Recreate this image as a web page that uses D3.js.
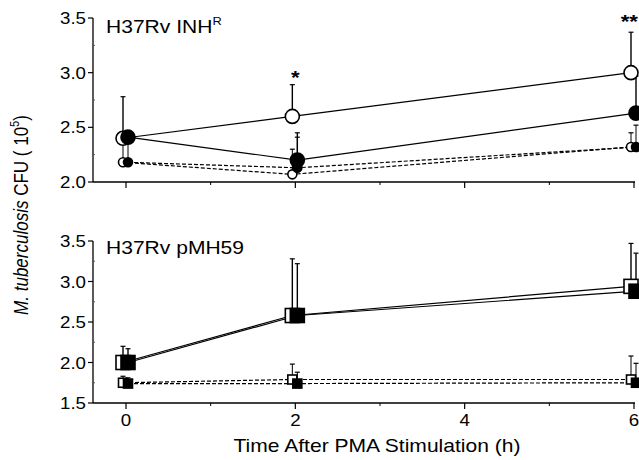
<!DOCTYPE html>
<html>
<head>
<meta charset="utf-8">
<script src="https://cdn.jsdelivr.net/npm/d3@7/dist/d3.min.js"></script>
<style>
  body { margin: 0; background: #fff; }
  svg { font-family: "Liberation Sans", Arial, sans-serif; }
</style>
</head>
<body>
<div id="chart"></div>
<script>
// time points (h)
const timesH = [0, 2, 6];
const xTicks = [0, 2, 4, 6];
const xMinorTicks = [1, 3, 5];

// top panel: H37Rv INH^R
const inhOpenBig = [2.40, 2.60, 3.00];
const inhOpenBigErr = [2.78, 2.89, 3.37];
const inhFilledBig = [2.41, 2.20, 2.63];
const inhFilledBigErr = [2.47, 2.45, 2.97];
const inhFilledSmall = [2.18, 2.13, 2.32];
const inhFilledSmallErr = [2.40, 2.41, 2.52];
const inhOpenSmall = [2.18, 2.07, 2.32];
const inhOpenSmallErr = [2.35, 2.30, 2.45];
const topTicks = [2.0, 2.5, 3.0, 3.5];
const topMinor = [2.25, 2.75, 3.25];

// bottom panel: H37Rv pMH59
const pmhOpenBig = [2.00, 2.58, 2.94];
const pmhOpenBigErr = [2.20, 3.28, 3.47];
const pmhFilledBig = [2.00, 2.58, 2.88];
const pmhFilledBigErr = [2.17, 3.22, 3.35];
const pmhOpenSmall = [1.75, 1.79, 1.79];
const pmhOpenSmallErr = [1.83, 1.98, 2.08];
const pmhFilledSmall = [1.74, 1.74, 1.75];
const pmhFilledSmallErr = [1.81, 1.88, 1.99];
const bottomTicks = [1.5, 2.0, 2.5, 3.0, 3.5];
const bottomMinor = [1.75, 2.25, 2.75, 3.25];

// significance marks (top panel)
const sigTimes = [2, 6];
const sigLabels = ["*", "**"];
const sigValues = [2.95, 3.46];

const W = 639, H = 460;
const STRETCH = 1.17;   // the original type is a bit wide
const svg = d3.select("#chart").append("svg")
    .attr("width", W).attr("height", H);

const x = d3.scaleLinear().domain([0, 6]).range([126, 634]);
const axisLeft = 93;

// horizontally stretched text
function hText(parent, px, py, size, anchor) {
    return parent.append("text")
        .attr("transform", `translate(${px},${py}) scale(${STRETCH},1)`)
        .attr("text-anchor", anchor)
        .attr("font-size", size);
}

function drawPanel(cfg) {
    const y = d3.scaleLinear().domain(cfg.domain).range(cfg.range);
    const g = svg.append("g");

    // axis lines
    g.append("line")
        .attr("x1", axisLeft).attr("x2", axisLeft)
        .attr("y1", y(cfg.domain[1])).attr("y2", y(cfg.domain[0]))
        .attr("stroke", "#000").attr("stroke-width", 1.3);
    g.append("line")
        .attr("x1", axisLeft).attr("x2", x(6) + 1)
        .attr("y1", y(cfg.domain[0])).attr("y2", y(cfg.domain[0]))
        .attr("stroke", "#000").attr("stroke-width", 1.5);

    // y ticks
    g.selectAll(".yt").data(cfg.ticks).enter().append("line")
        .attr("x1", axisLeft - 5).attr("x2", axisLeft)
        .attr("y1", d => y(d)).attr("y2", d => y(d))
        .attr("stroke", "#000").attr("stroke-width", 1.2);
    g.selectAll(".ym").data(cfg.minor).enter().append("line")
        .attr("x1", axisLeft).attr("x2", axisLeft + 2)
        .attr("y1", d => y(d)).attr("y2", d => y(d))
        .attr("stroke", "#555").attr("stroke-width", 1);
    cfg.ticks.forEach(d => {
        hText(g, axisLeft - 7, y(d) + 6, 16, "end").text(d3.format(".1f")(d));
    });

    // x ticks
    const y0 = y(cfg.domain[0]);
    g.selectAll(".xt").data(xTicks).enter().append("line")
        .attr("x1", d => x(d)).attr("x2", d => x(d))
        .attr("y1", y0).attr("y2", y0 + 6)
        .attr("stroke", "#000").attr("stroke-width", 1.2);
    g.selectAll(".xm").data(xMinorTicks).enter().append("line")
        .attr("x1", d => x(d)).attr("x2", d => x(d))
        .attr("y1", y0).attr("y2", y0 + 3)
        .attr("stroke", "#000").attr("stroke-width", 1);
    if (cfg.xLabels) {
        xTicks.forEach(d => {
            hText(g, x(d), y0 + 23, 16, "middle").text(d);
        });
    }

    // title
    const title = hText(g, 106, cfg.titleY, 18, "start").text(cfg.title);
    if (cfg.titleSup) {
        title.append("tspan").attr("dy", -8).attr("font-size", 11).text(cfg.titleSup);
    }

    const pts = (vals, dx) => vals.map((v, i) => [x(timesH[i]) + dx, y(v)]);

    // error bars
    cfg.series.forEach(s => {
        s.vals.forEach((v, i) => {
            const cx = x(timesH[i]) + s.dx;
            g.append("line")
                .attr("x1", cx).attr("x2", cx)
                .attr("y1", y(v)).attr("y2", y(s.err[i]))
                .attr("stroke", "#000").attr("stroke-width", s.big ? 1.4 : 1);
            g.append("line")
                .attr("x1", cx - 2.5).attr("x2", cx + 2.5)
                .attr("y1", y(s.err[i])).attr("y2", y(s.err[i]))
                .attr("stroke", "#000").attr("stroke-width", 1.2);
        });
    });

    // lines
    cfg.series.forEach(s => {
        g.append("path")
            .datum(pts(s.vals, s.dx))
            .attr("d", d3.line())
            .attr("fill", "none")
            .attr("stroke", "#000")
            .attr("stroke-width", 1.2)
            .attr("stroke-dasharray", s.dashed ? "4,2" : null);
    });

    // markers
    cfg.series.forEach(s => {
        const r = s.big ? 7 : 4.5;
        const sel = g.selectAll(null).data(pts(s.vals, s.dx)).enter();
        if (s.shape === "circle") {
            sel.append("circle")
                .attr("cx", d => d[0]).attr("cy", d => d[1]).attr("r", r)
                .attr("fill", s.open ? "#fff" : "#000")
                .attr("stroke", "#000").attr("stroke-width", 1.6);
        } else {
            sel.append("rect")
                .attr("x", d => d[0] - r).attr("y", d => d[1] - r)
                .attr("width", 2 * r).attr("height", 2 * r)
                .attr("fill", s.open ? "#fff" : "#000")
                .attr("stroke", "#000").attr("stroke-width", 1.6);
        }
    });
    return y;
}

const yTop = drawPanel({
    domain: [2.0, 3.5], range: [182, 18],
    ticks: topTicks, minor: topMinor, xLabels: false,
    title: "H37Rv INH", titleSup: "R", titleY: 33,
    series: [
        {vals: inhOpenSmall, err: inhOpenSmallErr, shape: "circle", open: true, big: false, dashed: true, dx: -3},
        {vals: inhFilledSmall, err: inhFilledSmallErr, shape: "circle", open: false, big: false, dashed: true, dx: 2},
        {vals: inhOpenBig, err: inhOpenBigErr, shape: "circle", open: true, big: true, dashed: false, dx: -3},
        {vals: inhFilledBig, err: inhFilledBigErr, shape: "circle", open: false, big: true, dashed: false, dx: 2}
    ]
});

drawPanel({
    domain: [1.5, 3.5], range: [403, 241],
    ticks: bottomTicks, minor: bottomMinor, xLabels: true,
    title: "H37Rv pMH59", titleY: 254,
    series: [
        {vals: pmhOpenSmall, err: pmhOpenSmallErr, shape: "square", open: true, big: false, dashed: true, dx: -3},
        {vals: pmhFilledSmall, err: pmhFilledSmallErr, shape: "square", open: false, big: false, dashed: true, dx: 2},
        {vals: pmhOpenBig, err: pmhOpenBigErr, shape: "square", open: true, big: true, dashed: false, dx: -3},
        {vals: pmhFilledBig, err: pmhFilledBigErr, shape: "square", open: false, big: true, dashed: false, dx: 2}
    ]
});

// asterisks (the last one is pulled in so it stays inside the page)
sigTimes.forEach((t, i) => {
    const last = i === sigTimes.length - 1;
    hText(svg, last ? W - 1 : x(t), yTop(sigValues[i]) + 6, 19, last ? "end" : "middle")
        .attr("font-weight", "bold")
        .text(sigLabels[i]);
});

// x axis title
hText(svg, 377, 452, 18, "middle").text("Time After PMA Stimulation (h)");

// y axis title
const yt = svg.append("text")
    .attr("transform", `translate(28,215) rotate(-90) scale(1,${STRETCH})`)
    .attr("text-anchor", "middle")
    .attr("font-size", 17);
yt.append("tspan").attr("font-style", "italic").text("M. tuberculosis");
yt.append("tspan").text(" CFU ( 10");
yt.append("tspan").attr("dy", -8).attr("font-size", 11).text("5");
yt.append("tspan").attr("dy", 8).text(")");
</script>
</body>
</html>
